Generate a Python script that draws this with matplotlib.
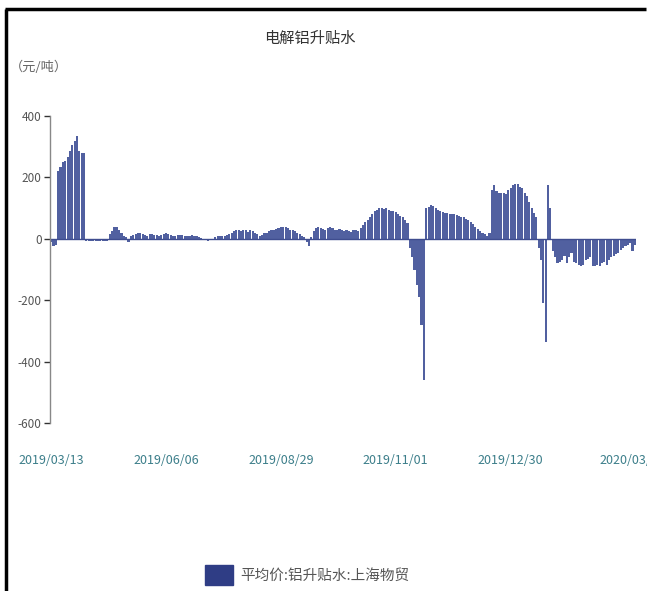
import matplotlib
matplotlib.use("Agg")
import matplotlib.pyplot as plt
from matplotlib.lines import Line2D
from matplotlib.patches import Patch

plt.rcParams['font.family'] = ['Noto Sans CJK SC', 'DejaVu Sans']

title = "电解铝升贴水"
unit_label = "（元/吨）"
series_name = "平均价:铝升贴水:上海物贸"

values = [
    -10, -25, -20,
    220, 235, 250, 255, 265, 285, 305, 320, 335, 285, 280, 280,
    -8, -8, -7, -8, -8, -8, -7, -8, -8, -8,
    15, 25, 40, 38, 30, 18, 10,
    5, -10, 8, 12,
    15, 18, 18, 15, 12, 10, 15, 16, 14, 12, 10, 12, 15, 18, 16, 12, 10, 10, 12, 14, 12, 10, 8, 10, 12, 10, 8, 6,
    2, -3, -5, -8, -5, -2,
    5, 8, 8, 10, 10, 12, 15, 18,
    25, 28, 30, 25, 30, 28, 22, 30, 25, 20, 15, 10,
    12, 18, 20, 25, 28, 30, 32, 35, 38, 40, 38, 35, 30, 28, 25, 20, 15, 10, 5,
    -10, -25, 5, 25,
    35, 38, 35, 32, 30, 35, 38, 35, 30, 28, 32, 30, 25,
    30, 25, 22, 28, 30, 25,
    35, 45, 55, 60, 70, 80, 90, 95,
    100, 100, 98, 100, 95, 92, 90, 88,
    80, 75, 70, 60, 50,
    -30, -60, -100, -150, -190, -280, -460,
    100, 105, 110, 108, 100, 95, 90, 88, 85, 85, 82, 80, 80, 78, 75, 72, 70, 65, 60, 55, 48, 40, 32, 25, 18,
    15, 10, 20,
    160, 175, 155, 150, 150, 148, 145, 160, 165, 175, 180, 178, 170, 165, 150, 140, 120, 100, 85, 70,
    -30, -70, -210, -335,
    175, 100,
    -40, -60, -80, -75, -70, -55, -80, -60, -45, -75, -80, -85, -90, -85, -70, -65, -60, -90, -88, -85,
    -90, -80, -75, -85, -70, -60, -55, -50, -45, -35, -30, -25, -20, -15, -40, -20,
]

tick_labels = ["2019/03/13", "2019/06/06", "2019/08/29", "2019/11/01", "2019/12/30", "2020/03/"]
tick_step = 49
y_ticks = [400, 200, 0, -200, -400, -600]

bar_color = "#5160A0"
legend_color = "#2F3D85"

fig = plt.figure(figsize=(6.47, 5.91), dpi=100)
ax = fig.add_axes([50 / 647, 1 - 423 / 591, 586 / 647, (423 - 116) / 591])

x = list(range(len(values)))
ax.bar(x, values, width=0.9, color=bar_color, edgecolor='none', linewidth=0)
ax.axhline(0, color="#3F4D8F", linewidth=1.0)

ax.set_xlim(-0.5, len(values) - 0.5)
ax.set_ylim(-600, 400)
ax.set_yticks(y_ticks)
ax.set_yticklabels([str(v) for v in y_ticks], fontsize=8.5, color="#555555")
ax.tick_params(axis='y', length=4, width=1, color="#333333", pad=2)

ticks = [i * tick_step for i in range(len(tick_labels))]
ax.set_xticks(ticks)
ax.set_xticklabels(tick_labels, fontsize=9, color="#3C7E8A")
ax.tick_params(axis='x', length=0, pad=22)

for s in ['top', 'right', 'bottom']:
    ax.spines[s].set_visible(False)
ax.spines['left'].set_color("#888888")
ax.spines['left'].set_linewidth(1.0)

fig.text(310 / 647, 1 - 38 / 591, title, ha='center', va='center', fontsize=11, color="#333333")
fig.text(10 / 647, 1 - 67 / 591, unit_label, ha='left', va='center', fontsize=9.5, color="#666666")

leg = fig.legend(handles=[Patch(facecolor=legend_color, edgecolor=legend_color)],
                 labels=[series_name], loc='center', bbox_to_anchor=(307 / 647, 1 - 575 / 591),
                 frameon=False, fontsize=10.5, handlelength=1.9, handleheight=1.8, handletextpad=0.5)
for t in leg.get_texts():
    t.set_color("#555555")

fig.add_artist(Line2D([6 / 647, 6 / 647], [0, 1 - 9 / 591], transform=fig.transFigure,
                      color='black', linewidth=2.5, solid_capstyle='butt'))
fig.add_artist(Line2D([5 / 647, 0.999], [1 - 9 / 591, 1 - 9 / 591], transform=fig.transFigure,
                      color='black', linewidth=2.5, solid_capstyle='butt'))

fig.savefig("out.png", dpi=100)
